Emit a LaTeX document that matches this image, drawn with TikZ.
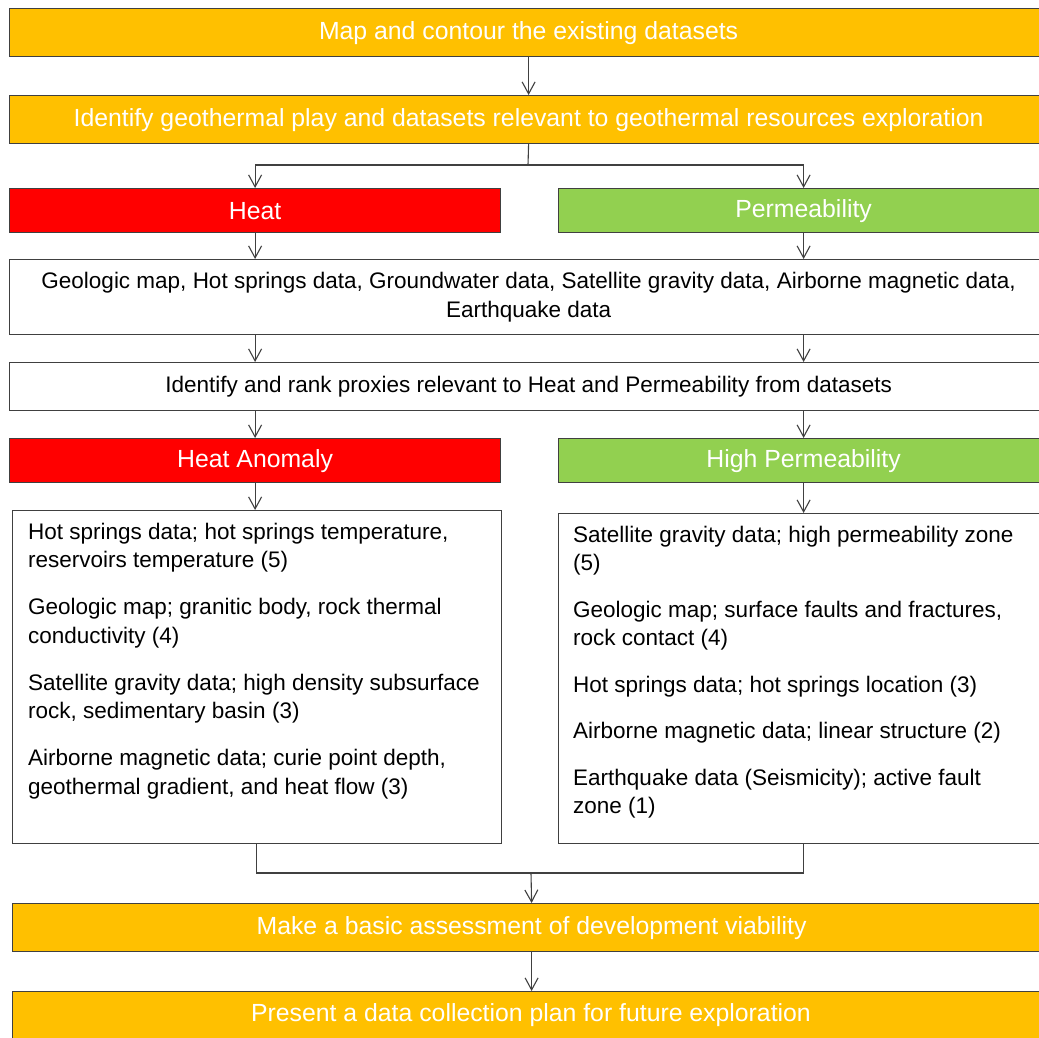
\documentclass[tikz,border=0pt]{standalone}
\usepackage{fontspec}
\setmainfont{Liberation Sans}
\usetikzlibrary{arrows.meta}
\definecolor{orng}{HTML}{FFC000}
\definecolor{rd}{HTML}{FF0000}
\definecolor{grn}{HTML}{92D050}
\definecolor{edgec}{HTML}{404040}
\begin{document}
\begin{tikzpicture}[x=1pt,y=-1pt,
  box/.style={draw=edgec, line width=1.2pt, inner sep=0pt, anchor=north west},
  titlebox/.style={box, text=white, font=\fontsize{24.8}{29}\selectfont},
  plainbox/.style={box, fill=white, text=black, font=\fontsize{22.5}{29}\selectfont, align=center},
  bodytext/.style={inner sep=0pt, anchor=north west, align=left, text=black, font=\fontsize{22.5}{28.5}\selectfont},
  conn/.style={draw=edgec, line width=1.1pt},
  arr/.style={conn, -{Straight Barb[length=12pt,width=13pt,line width=1.1pt]}}]
\useasboundingbox (0,0) rectangle (1039,1038);
\clip (0,0) rectangle (1039,1038);
\fill[white] (0,0) rectangle (1039,1038);

\node[titlebox, fill=orng, minimum width=1038pt, minimum height=48pt] (b1) at (9,8) {Map and contour the existing datasets};
\node[titlebox, fill=orng, minimum width=1038pt, minimum height=48pt] (b2) at (9,95) {Identify geothermal play and datasets relevant to geothermal resources exploration};
\node[titlebox, fill=rd, minimum width=491pt, minimum height=44pt] (heat) at (9,188) {Heat};
\node[titlebox, fill=grn, minimum width=490pt, minimum height=44pt] (perm) at (558,188) {Permeability};
\node[plainbox, minimum width=1038pt, minimum height=75pt] (data) at (9,259) {Geologic map, Hot springs data, Groundwater data, Satellite gravity data, Airborne magnetic data,\\ Earthquake data};
\node[plainbox, minimum width=1038pt, minimum height=48pt] (rank) at (9,362) {Identify and rank proxies relevant to Heat and Permeability from datasets};
\node[titlebox, fill=rd, minimum width=491pt, minimum height=44pt] (ha) at (9,438) {Heat Anomaly};
\node[titlebox, fill=grn, minimum width=490pt, minimum height=44pt] (hp) at (558,438) {High Permeability};
\node[box, fill=white, minimum width=489pt, minimum height=333pt] (lt) at (11.5,510) {};
\node[box, fill=white, minimum width=490pt, minimum height=330pt] (rt) at (558,513) {};
\node[bodytext] (ltx) at (28,522.6) {Hot springs data; hot springs temperature,\\ reservoirs temperature (5)\\[18.5pt]
Geologic map; granitic body, rock thermal\\ conductivity (4)\\[18.5pt]
Satellite gravity data; high density subsurface\\ rock, sedimentary basin (3)\\[18.5pt]
Airborne magnetic data; curie point depth,\\ geothermal gradient, and heat flow (3)};
\node[bodytext] (rtx) at (573,525.6) {Satellite gravity data; high permeability zone\\ (5)\\[18pt]
Geologic map; surface faults and fractures,\\ rock contact (4)\\[18pt]
Hot springs data; hot springs location (3)\\[18pt]
Airborne magnetic data; linear structure (2)\\[18pt]
Earthquake data (Seismicity); active fault\\ zone (1)};
\node[titlebox, fill=orng, minimum width=1038pt, minimum height=48pt] (mk) at (12,903) {Make a basic assessment of development viability};
\node[titlebox, fill=orng, minimum width=1038pt, minimum height=60pt] (pr) at (12,991) {};
\node[text=white, font=\fontsize{24.8}{29}\selectfont, inner sep=0pt] (prt) at (531,1015) {Present a data collection plan for future exploration};

\coordinate (sp) at (528,165);
\coordinate (mg) at (531,873);

\draw[arr] (b1.south) -- (b2.north);
\draw[conn] (b2.south) -- (sp);
\draw[arr] (sp) -| (heat.north);
\draw[arr] (sp) -| (perm.north);
\draw[arr] (heat.south) -- (heat.south |- data.north);
\draw[arr] (perm.south) -- (perm.south |- data.north);
\draw[arr] (heat.south |- data.south) -- (heat.south |- rank.north);
\draw[arr] (perm.south |- data.south) -- (perm.south |- rank.north);
\draw[arr] (ha.north |- rank.south) -- (ha.north);
\draw[arr] (hp.north |- rank.south) -- (hp.north);
\draw[arr] (ha.south) -- (ha.south |- lt.north);
\draw[arr] (hp.south) -- (hp.south |- rt.north);
\draw[conn] (lt.south) |- (mg);
\draw[conn] (rt.south) |- (mg);
\draw[arr] (mg) -- (mk.north);
\draw[arr] (mk.south) -- (pr.north);
\end{tikzpicture}
\end{document}
